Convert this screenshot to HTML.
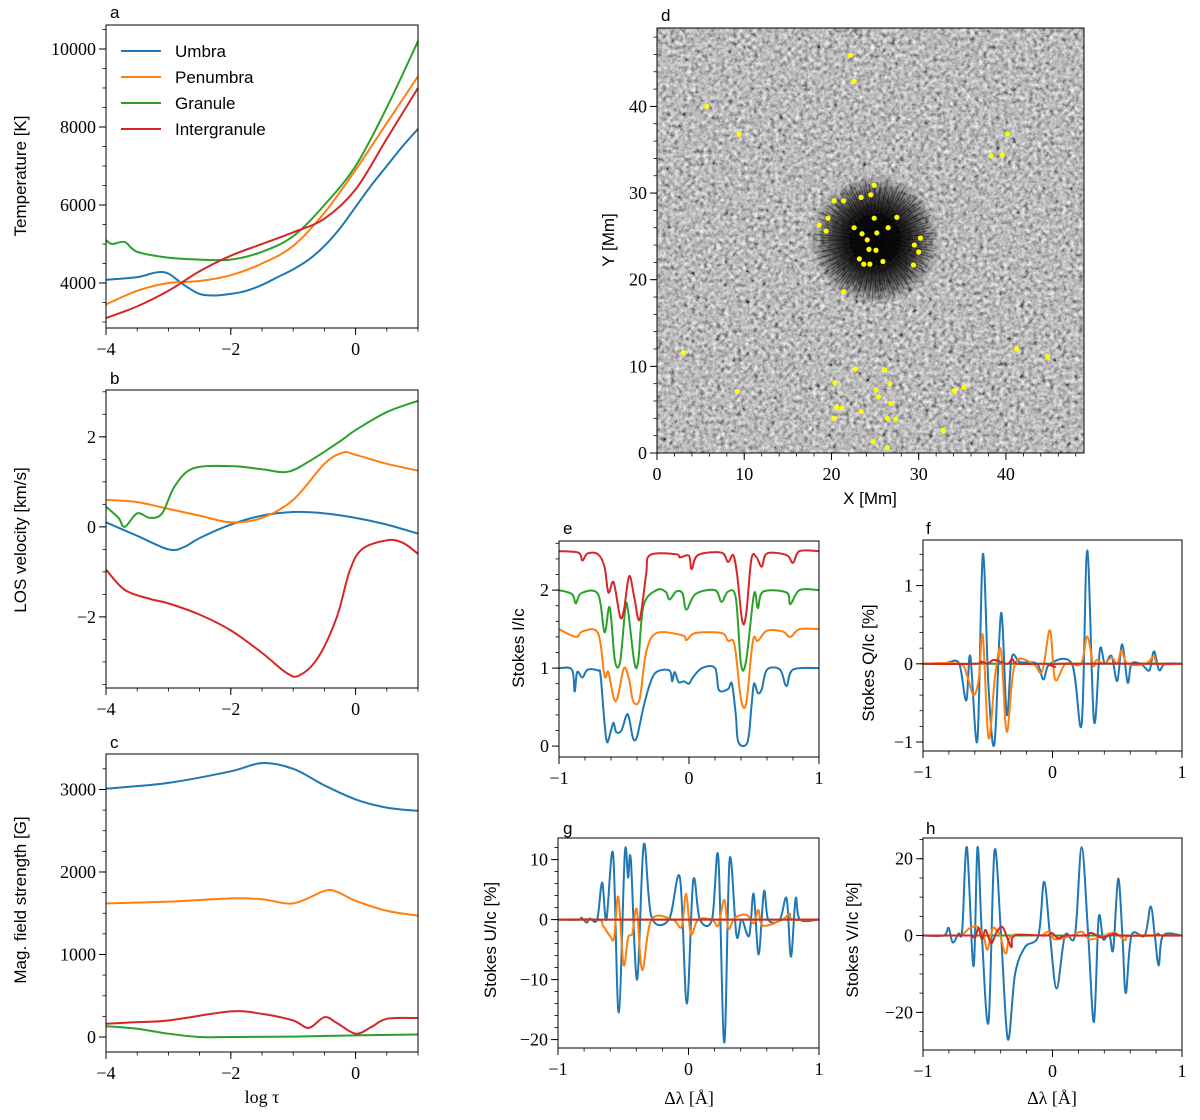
<!DOCTYPE html>
<html><head><meta charset="utf-8"><style>
html,body{margin:0;padding:0;background:#fff;}
svg{display:block;}
text{fill:#000;}
.tk{font-family:"Liberation Serif",serif;font-size:18px;}
.lb{font-family:"Liberation Sans",sans-serif;font-size:17px;}
</style></head><body>
<svg id="fig" width="1200" height="1120" viewBox="0 0 1200 1120" xmlns="http://www.w3.org/2000/svg">
<defs>
<filter id="gran" x="0" y="0" width="100%" height="100%">
<feTurbulence type="fractalNoise" baseFrequency="0.24" numOctaves="3" seed="7"/>
<feColorMatrix type="matrix" values="0.33 0.33 0.33 0 0  0.33 0.33 0.33 0 0  0.33 0.33 0.33 0 0  0 0 0 0 1"/>
<feComponentTransfer><feFuncR type="linear" slope="1.9" intercept="-0.45"/><feFuncG type="linear" slope="1.9" intercept="-0.45"/><feFuncB type="linear" slope="1.9" intercept="-0.45"/></feComponentTransfer>
</filter>
<radialGradient id="spot">
<stop offset="0" stop-color="#000" stop-opacity="0.95"/>
<stop offset="0.45" stop-color="#080808" stop-opacity="0.85"/>
<stop offset="0.75" stop-color="#222" stop-opacity="0.5"/>
<stop offset="1" stop-color="#333" stop-opacity="0"/>
</radialGradient>
<clipPath id="dclip"><rect x="657" y="28" width="427" height="425"/></clipPath>
</defs>
</svg>
<script>
// ---------- DATA ----------
const tauX = [-4,-3.5,-3.2,-3,-2.75,-2.5,-2.25,-2,-1.75,-1.5,-1.25,-1,-0.75,-0.5,-0.25,0,0.25,0.5,0.75,1];
const tempUmbra = [4080,4150,4270,4240,3950,3720,3680,3720,3800,3950,4150,4350,4600,4950,5400,5950,6500,7000,7500,7950];
const tempPenX = [-4,-3.5,-3,-2.5,-2,-1.5,-1,-0.5,0,0.5,1];
const tempPen = [3450,3800,4000,4050,4200,4500,4950,5800,6900,8100,9300];
const tempGranX = [-4,-3.9,-3.7,-3.5,-3,-2.5,-2,-1.5,-1,-0.5,0,0.5,1];
const tempGran = [5100,5000,5050,4800,4650,4600,4600,4800,5200,6000,7000,8500,10200];
const tempIntX = [-4,-3.5,-3,-2.5,-2,-1.5,-1,-0.5,0,0.5,1];
const tempInt = [3100,3400,3800,4300,4700,5000,5300,5650,6400,7700,9000];

const velUmbraX = [-4,-3.5,-3,-2.75,-2.5,-2,-1.5,-1,-0.5,0,0.5,1];
const velUmbra = [0.1,-0.2,-0.5,-0.45,-0.25,0.05,0.25,0.33,0.3,0.2,0.05,-0.15];
const velPenX = [-4,-3.5,-3,-2.5,-2,-1.5,-1,-0.5,-0.2,0,0.5,1];
const velPen = [0.6,0.55,0.4,0.25,0.1,0.2,0.6,1.4,1.65,1.6,1.4,1.25];
const velGranX = [-4,-3.8,-3.7,-3.5,-3.3,-3.1,-2.9,-2.6,-2,-1.5,-1.1,-0.75,-0.25,0,0.5,1];
const velGran = [0.45,0.2,0,0.3,0.2,0.3,0.9,1.3,1.35,1.28,1.22,1.45,1.9,2.15,2.55,2.8];
const velIntX = [-4,-3.7,-3.3,-3,-2.5,-2,-1.5,-1.1,-0.9,-0.6,-0.3,-0.1,0.1,0.5,0.75,1];
const velInt = [-0.95,-1.4,-1.6,-1.7,-1.95,-2.3,-2.8,-3.25,-3.3,-2.9,-2,-1,-0.5,-0.3,-0.35,-0.6];

const bUmbraX = [-4,-3,-2,-1.5,-1,-0.5,0,0.5,1];
const bUmbra = [3010,3080,3220,3320,3250,3050,2880,2780,2740];
const bPenX = [-4,-3,-2,-1.5,-1,-0.5,-0.3,0,0.5,1];
const bPen = [1620,1640,1680,1670,1620,1770,1760,1650,1530,1470];
const bGranX = [-4,-3.5,-3,-2.5,-2,-1,0,1];
const bGran = [130,100,40,0,0,5,20,30];
const bIntX = [-4,-3.5,-3,-2,-1.5,-1,-0.75,-0.5,-0.3,0,0.25,0.5,1];
const bInt = [160,180,200,310,280,200,110,240,170,40,120,220,230];

const iUmbraX = [-1,-0.9,-0.88,-0.86,-0.82,-0.78,-0.7,-0.68,-0.65,-0.63,-0.6,-0.58,-0.56,-0.52,-0.48,-0.46,-0.43,-0.4,-0.35,-0.3,-0.25,-0.15,-0.13,-0.11,-0.08,-0.04,0,0.03,0.1,0.2,0.23,0.3,0.33,0.36,0.38,0.45,0.48,0.5,0.53,0.56,0.6,0.7,0.75,0.8,1];
const iUmbra = [1,0.98,0.7,0.95,0.88,0.98,0.97,0.9,0.3,0.05,0.2,0.3,0.18,0.2,0.4,0.35,0.1,0.12,0.5,0.8,0.95,0.97,0.83,0.95,0.82,0.83,0.8,0.88,1,1,0.72,0.73,0.8,0.4,0.05,0.05,0.5,0.8,0.68,0.73,0.98,0.98,0.77,0.98,1];
const iPenX = [-1,-0.87,-0.82,-0.7,-0.65,-0.62,-0.58,-0.55,-0.5,-0.46,-0.43,-0.38,-0.33,-0.25,-0.05,-0.02,0.05,0.25,0.3,0.35,0.4,0.44,0.48,0.5,0.53,0.6,0.72,0.78,0.85,1];
const iPen = [1.5,1.4,1.47,1.45,0.9,0.95,0.62,0.62,1.0,0.85,0.58,0.6,1.2,1.45,1.42,1.36,1.45,1.45,1.35,1.3,0.6,0.55,1.2,1.4,1.35,1.48,1.47,1.4,1.5,1.5];
const iGranX = [-1,-0.9,-0.87,-0.83,-0.7,-0.65,-0.61,-0.57,-0.53,-0.49,-0.47,-0.42,-0.39,-0.35,-0.25,-0.18,-0.15,-0.1,-0.05,-0.02,0.05,0.2,0.25,0.3,0.36,0.4,0.44,0.5,0.53,0.57,0.75,0.78,0.85,1];
const iGran = [2,1.95,1.83,1.96,1.95,1.46,1.78,1.1,1.08,1.76,1.75,1.07,1.1,1.8,2,1.98,1.88,1.98,1.96,1.75,1.95,2,1.85,1.98,1.9,1.05,1.1,1.95,1.77,1.98,1.97,1.82,2,2];
const iIntX = [-1,-0.85,-0.82,-0.78,-0.7,-0.65,-0.62,-0.58,-0.53,-0.5,-0.46,-0.42,-0.38,-0.33,-0.3,-0.1,-0.07,0,0.02,0.07,0.25,0.3,0.34,0.37,0.41,0.44,0.48,0.52,0.56,0.6,0.75,0.8,0.85,1];
const iInt = [2.5,2.48,2.38,2.47,2.46,2.3,1.97,2.1,1.66,1.75,2.18,1.9,1.62,2.2,2.45,2.46,2.42,2.44,2.27,2.45,2.48,2.36,2.45,2.2,1.6,1.7,2.4,2.42,2.3,2.47,2.45,2.35,2.5,2.5];

const qUmbraX = [-1,-0.84,-0.8,-0.72,-0.666,-0.635,-0.58,-0.538,-0.494,-0.448,-0.397,-0.353,-0.315,-0.25,-0.12,-0.07,-0.02,0.15,0.225,0.268,0.32,0.366,0.404,0.456,0.5,0.538,0.58,0.61,0.68,0.71,0.75,0.784,0.823,0.87,1];
const qUmbra = [0,0,0.02,0,-0.47,0.1,-0.98,1.4,-0.3,-1.02,0.65,-0.65,0.08,0.02,0,-0.2,0,0,-0.77,1.45,-0.73,0.18,0,0.1,-0.22,0.25,-0.24,0,0,-0.04,-0.08,0.16,-0.08,0,0];
const qPenX = [-1,-0.72,-0.66,-0.61,-0.57,-0.538,-0.494,-0.443,-0.397,-0.353,-0.29,-0.15,-0.08,-0.02,0.02,0.1,0.22,0.268,0.315,0.34,0.4,0.456,0.5,0.533,0.58,0.72,0.784,0.815,1];
const qPen = [0,0,-0.15,-0.4,-0.2,0.36,-0.95,-0.15,0.17,-0.87,0,0,-0.1,0.43,-0.2,0,0,0.35,-0.02,0.05,0,0.08,0,0.17,0,0,0.1,0,0];
const qRedX = [-1,-0.6,-0.55,-0.5,-0.45,-0.35,-0.31,-0.27,-0.05,0.02,0.06,1];
const qRed = [0,0,0.03,0,0.05,0,0.06,0,0,-0.04,0,0];

const uUmbraX = [-1,-0.84,-0.82,-0.78,-0.757,-0.7,-0.662,-0.629,-0.578,-0.535,-0.488,-0.463,-0.442,-0.394,-0.343,-0.284,-0.15,-0.066,-0.013,0.036,0.087,0.18,0.228,0.274,0.315,0.368,0.407,0.465,0.499,0.537,0.578,0.611,0.7,0.752,0.785,0.821,0.854,1];
const uUmbra = [0,0,0.3,-0.5,0.2,0,6.2,0,11,-15.5,11,7,10,-10,12.5,0.5,0,7,-14,6.5,0,0,10.5,-20.5,10,-2.7,0,-2.7,4.3,-5.8,4.7,0,0,3.5,-6.2,3.5,0,0];
const uPenX = [-1,-0.7,-0.655,-0.6,-0.57,-0.538,-0.498,-0.463,-0.43,-0.396,-0.355,-0.284,-0.12,-0.053,-0.018,0.018,0.074,0.18,0.228,0.274,0.305,0.355,0.445,0.5,0.535,0.57,0.72,0.775,0.8,1];
const uPen = [0,0,-1,-2.8,-3,3.8,-7.5,-3,-2.3,1.7,-8.4,0,0,-1.2,4.3,-2.4,0,0,-1,3.3,-1.5,0.3,0.8,-0.6,1.6,-1,0,1,0,0];
const uRedX = [-1,1];
const uRed = [0,0];

const vUmbraX = [-1,-0.84,-0.802,-0.771,-0.725,-0.697,-0.661,-0.61,-0.579,-0.545,-0.494,-0.448,-0.397,-0.345,-0.289,-0.212,-0.109,-0.065,-0.019,0.032,0.096,0.173,0.225,0.276,0.32,0.356,0.392,0.438,0.469,0.507,0.54,0.566,0.61,0.712,0.758,0.79,0.82,0.854,1];
const vUmbra = [0,0,2,-1.8,0.5,1.5,23,-8,23,0,-22.5,22,0,-27,-10,-3,0,14,0,-13.8,0,0,23,0,-22.5,4.5,-1,0.5,-3.6,14.8,0,-15,0,0,7.6,0,-7.8,0,0];
const vPenX = [-1,-0.72,-0.687,-0.636,-0.579,-0.533,-0.502,-0.464,-0.435,-0.404,-0.36,-0.315,-0.1,-0.032,0.02,0.15,0.225,0.289,0.4,0.481,0.559,0.61,1];
const vPen = [0,0,0.5,2,2.3,0,-3.7,1.7,1.5,0,-4.7,0,0,1,-1,0,1,-1,0,0.7,-1.2,0,0];
const vRedX = [-1,-0.65,-0.628,-0.597,-0.571,-0.545,-0.519,-0.494,-0.469,-0.43,-0.386,-0.345,-0.315,-0.29,-0.05,-0.006,0.045,0.1,0.25,0.3,0.38,0.48,0.53,0.78,0.815,0.84,1];
const vRed = [0,0,0,-0.5,2,-1,1.5,-0.5,-2,1,2.2,-1,-3,0,0,0.7,-0.7,0,0,0.7,-0.5,0.5,0,0,0.5,0,0];

const fluxX = [22.2,22.6,5.7,9.4,40.2,38.3,39.6,24.9,24.5,20.3,21.4,23.4,19.6,18.6,19.4,22.6,24.9,27.5,26.5,23.5,25.2,24.1,24.3,25.1,30.2,29.5,30.0,23.2,23.7,24.4,25.9,29.4,21.4,3.0,41.2,44.8,9.2,22.7,26.1,20.4,26.7,25.1,25.4,34.1,35.2,20.6,21.2,26.8,23.4,20.3,26.4,27.4,32.8,24.8,26.4];
const fluxY = [45.9,42.9,40.0,36.8,36.8,34.3,34.4,30.9,29.8,29.1,29.1,29.5,27.1,26.3,25.6,26.0,27.1,27.2,26.0,25.3,25.4,24.6,23.5,23.4,24.8,24.0,23.2,22.4,21.8,21.8,22.1,21.7,18.6,11.6,12.0,11.1,7.1,9.7,9.6,8.1,8.0,7.3,6.5,7.2,7.6,5.3,5.2,5.7,4.8,4.0,4.0,3.9,2.6,1.3,0.6];

// ---------- HELPERS ----------
const C = {u:'#1f77b4', p:'#ff7f0e', g:'#2ca02c', r:'#d62728'};
const svg = document.getElementById('fig');
const NS = 'http://www.w3.org/2000/svg';
function mk(tag, parent){ const e=document.createElementNS(NS,tag); (parent||svg).appendChild(e); return e; }
function attrs(e, a){ for(const k in a) e.setAttribute(k, a[k]); return e; }
function fmt(v){ return (v<0?'\u2212':'')+Math.abs(v); }

function axes(name, box, xr, yr, xt, yt, xm, ym){
  const sx = v => box.x0 + (v-xr[0])/(xr[1]-xr[0])*(box.x1-box.x0);
  const sy = v => box.y1 - (v-yr[0])/(yr[1]-yr[0])*(box.y1-box.y0);
  const g = mk('g');
  
  
  const xa = mk('g', g);
  
  
  const ya = mk('g', g);
  
  
  for(let v=Math.ceil(xr[0]/xm)*xm; v<=xr[1]+1e-9; v+=xm){
    const px=sx(v); attrs(mk('line',xa),{x1:px,x2:px,y1:box.y1,y2:box.y1+3.5,stroke:'#000','stroke-width':0.8});
  }
  for(let v=Math.ceil(yr[0]/ym)*ym; v<=yr[1]+1e-9; v+=ym){
    const py=sy(v); attrs(mk('line',ya),{x1:box.x0-3.5,x2:box.x0,y1:py,y2:py,stroke:'#000','stroke-width':0.8});
  }
  xt.forEach(v=>{
    const px=sx(v); attrs(mk('line',xa),{x1:px,x2:px,y1:box.y1,y2:box.y1+7,stroke:'#000','stroke-width':1});
    const t=mk('text',xa); attrs(t,{x:px,y:box.y1+27,'text-anchor':'middle',class:'tk'}); t.textContent=fmt(v);
    
    
  });
  yt.forEach(v=>{
    const py=sy(v); attrs(mk('line',ya),{x1:box.x0-7,x2:box.x0,y1:py,y2:py,stroke:'#000','stroke-width':1});
    const t=mk('text',ya); attrs(t,{x:box.x0-10,y:py+6,'text-anchor':'end',class:'tk'}); t.textContent=fmt(v);
    
    
  });
  return {sx, sy, g, box};
}
function frame(ax, name){
  const r = mk('rect', ax.g);
  attrs(r,{x:ax.box.x0,y:ax.box.y0,width:ax.box.x1-ax.box.x0,height:ax.box.y1-ax.box.y0,fill:'none',stroke:'#000','stroke-width':1});
  
  
}
function curve(ax, xs, ys, color, name){
  const P = xs.map((x,i)=>[ax.sx(x), ax.sy(ys[i])]);
  let d = 'M'+P[0][0].toFixed(2)+','+P[0][1].toFixed(2);
  for(let i=0;i<P.length-1;i++){
    const p0=P[Math.max(0,i-1)], p1=P[i], p2=P[i+1], p3=P[Math.min(P.length-1,i+2)];
    const c1=[p1[0]+(p2[0]-p0[0])/6, p1[1]+(p2[1]-p0[1])/6];
    const c2=[p2[0]-(p3[0]-p1[0])/6, p2[1]-(p3[1]-p1[1])/6];
    d += ' C'+c1[0].toFixed(2)+','+c1[1].toFixed(2)+' '+c2[0].toFixed(2)+','+c2[1].toFixed(2)+' '+p2[0].toFixed(2)+','+p2[1].toFixed(2);
  }
  const path = mk('path', ax.g);
  attrs(path,{d:d,fill:'none',stroke:color,'stroke-width':2,'stroke-linejoin':'round'});
  
  
  return path;
}
function txt(x,y,s,cls,name,rot){
  const t=mk('text'); attrs(t,{x:x,y:y,class:cls,'text-anchor':'middle'});
  if(rot) t.setAttribute('transform','rotate(-90 '+x+' '+y+')');
  t.textContent=s;
  
  
  return t;
}
function plabel(x,y,s){
  const t=mk('text'); attrs(t,{x:x,y:y,class:'lb','font-size':'20'}); t.textContent=s;
  
  
}

// ---------- PANEL A ----------
const axA = axes('temperature', {x0:106,x1:418,y0:25,y1:328}, [-4,1], [2846,10615], [-4,-2,0], [4000,6000,8000,10000], 0.5, 500);
curve(axA, tauX, tempUmbra, C.u, 'temperature-umbra-line');
curve(axA, tempPenX, tempPen, C.p, 'temperature-penumbra-line');
curve(axA, tempGranX, tempGran, C.g, 'temperature-granule-line');
curve(axA, tempIntX, tempInt, C.r, 'temperature-intergranule-line');
frame(axA,'temperature');
const legNames = ['Umbra','Penumbra','Granule','Intergranule'];
const legCols = [C.u,C.p,C.g,C.r];
const leg = mk('g');


legNames.forEach((n,i)=>{
  const y = 51 + i*26;
  const e = mk('g', leg);
  
  
  attrs(mk('line',e),{x1:121,x2:161,y1:y,y2:y,stroke:legCols[i],'stroke-width':2});
  const t = mk('text',e); attrs(t,{x:175,y:y+6,class:'lb','font-size':'16'}); t.textContent=n;
});
txt(26,176,'Temperature [K]','lb','y-axis-title-temperature',true);
plabel(110,18,'a');

// ---------- PANEL B ----------
const axB = axes('velocity', {x0:106,x1:418,y0:390,y1:688}, [-4,1], [-3.58,3.04], [-4,-2,0], [-2,0,2], 0.5, 0.5);
curve(axB, velUmbraX, velUmbra, C.u, 'velocity-umbra-line');
curve(axB, velPenX, velPen, C.p, 'velocity-penumbra-line');
curve(axB, velGranX, velGran, C.g, 'velocity-granule-line');
curve(axB, velIntX, velInt, C.r, 'velocity-intergranule-line');
frame(axB,'velocity');
txt(26,540,'LOS velocity [km/s]','lb','y-axis-title-velocity',true);
plabel(110,384,'b');

// ---------- PANEL C ----------
const axCc = axes('field', {x0:106,x1:418,y0:754,y1:1052}, [-4,1], [-182,3430], [-4,-2,0], [0,1000,2000,3000], 0.5, 250);
curve(axCc, bUmbraX, bUmbra, C.u, 'field-umbra-line');
curve(axCc, bPenX, bPen, C.p, 'field-penumbra-line');
curve(axCc, bGranX, bGran, C.g, 'field-granule-line');
curve(axCc, bIntX, bInt, C.r, 'field-intergranule-line');
frame(axCc,'field');
txt(26,900,'Mag. field strength [G]','lb','y-axis-title-field',true);
const lt = mk('text'); attrs(lt,{x:262,y:1103,'text-anchor':'middle',class:'tk','font-size':'18'}); lt.textContent='log \u03C4';


plabel(110,748,'c');

// ---------- PANEL D ----------
const axD = axes('map', {x0:657,x1:1084,y0:28,y1:453}, [0,48.95], [0,49.05], [0,10,20,30,40], [0,10,20,30,40], 2, 2);
const dg = mk('g', axD.g); dg.setAttribute('clip-path','url(#dclip)');


attrs(mk('rect',dg),{x:657,y:28,width:427,height:425,fill:'#888'});
attrs(mk('rect',dg),{x:657,y:28,width:427,height:425,filter:'url(#gran)'});
const cx = axD.sx(25), cy = axD.sy(24.6);
attrs(mk('circle',dg),{cx:cx,cy:cy,r:66,fill:'url(#spot)'});
const fil = mk('g', dg); fil.setAttribute('stroke','#000'); fil.setAttribute('stroke-opacity','0.35');
for(let k=0;k<180;k++){
  const a = k*2*Math.PI/180 + (k%3)*0.01;
  const r1 = 18 + (k%5)*3, r2 = 44 + ((k*7)%19);
  attrs(mk('line',fil),{x1:cx+r1*Math.cos(a),y1:cy+r1*Math.sin(a),x2:cx+r2*Math.cos(a),y2:cy+r2*Math.sin(a),'stroke-width':1.3});
}
attrs(mk('circle',dg),{cx:cx,cy:cy,r:26,fill:'#000','fill-opacity':0.6});
fluxX.forEach((x,i)=>{
  const c = mk('ellipse', dg);
  attrs(c,{cx:axD.sx(x),cy:axD.sy(fluxY[i]),rx:2.6,ry:2.6,fill:'#ffff00'});
  
  
});
frame(axD,'map');
txt(614,240,'Y [Mm]','lb','y-axis-title-map',true);
txt(870,504,'X [Mm]','lb','x-axis-title-map',false);
plabel(661,21,'d');

// ---------- PANEL E ----------
const axE = axes('stokes-i', {x0:559,x1:819,y0:541,y1:757}, [-1,1], [-0.14,2.63], [-1,0,1], [0,1,2], 0.2, 0.2);
curve(axE, iUmbraX, iUmbra, C.u, 'stokes-i-umbra-line');
curve(axE, iPenX, iPen, C.p, 'stokes-i-penumbra-line');
curve(axE, iGranX, iGran, C.g, 'stokes-i-granule-line');
curve(axE, iIntX, iInt, C.r, 'stokes-i-intergranule-line');
frame(axE,'stokes-i');
txt(524,648,'Stokes I/I\u1D04','lb','y-axis-title-stokes-i',true);
plabel(563,534,'e');

// ---------- PANEL F ----------
const axF = axes('stokes-q', {x0:923,x1:1182,y0:540,y1:751}, [-1,1], [-1.115,1.583], [-1,0,1], [-1,0,1], 0.2, 0.2);
curve(axF, uRedX, uRed, C.g, 'stokes-q-granule-line');
curve(axF, qUmbraX, qUmbra, C.u, 'stokes-q-umbra-line');
curve(axF, qPenX, qPen, C.p, 'stokes-q-penumbra-line');
curve(axF, qRedX, qRed, C.r, 'stokes-q-intergranule-line');
frame(axF,'stokes-q');
txt(874,663,'Stokes Q/I\u1D04 [%]','lb','y-axis-title-stokes-q',true);
plabel(926,534,'f');

// ---------- PANEL G ----------
const axG = axes('stokes-u', {x0:558,x1:819,y0:838,y1:1048}, [-1,1], [-21.4,13.6], [-1,0,1], [-20,-10,0,10], 0.2, 2);
curve(axG, uUmbraX, uUmbra, C.u, 'stokes-u-umbra-line');
curve(axG, uPenX, uPen, C.p, 'stokes-u-penumbra-line');
curve(axG, uRedX, uRed, C.g, 'stokes-u-granule-line');
curve(axG, uRedX, uRed, C.r, 'stokes-u-intergranule-line');
frame(axG,'stokes-u');
txt(496,940,'Stokes U/I\u1D04 [%]','lb','y-axis-title-stokes-u',true);
txt(689,1104,'\u0394\u03BB [\u00C5]','tk','x-axis-title-stokes-u',false);
plabel(563,834,'g');

// ---------- PANEL H ----------
const axH = axes('stokes-v', {x0:923,x1:1182,y0:838,y1:1050}, [-1,1], [-29.8,25.4], [-1,0,1], [-20,0,20], 0.2, 5);
curve(axH, uRedX, uRed, C.g, 'stokes-v-granule-line');
curve(axH, vUmbraX, vUmbra, C.u, 'stokes-v-umbra-line');
curve(axH, vPenX, vPen, C.p, 'stokes-v-penumbra-line');
curve(axH, vRedX, vRed, C.r, 'stokes-v-intergranule-line');
frame(axH,'stokes-v');
txt(858,940,'Stokes V/I\u1D04 [%]','lb','y-axis-title-stokes-v',true);
txt(1052,1104,'\u0394\u03BB [\u00C5]','tk','x-axis-title-stokes-v',false);
plabel(926,834,'h');
</script>
</body></html>
